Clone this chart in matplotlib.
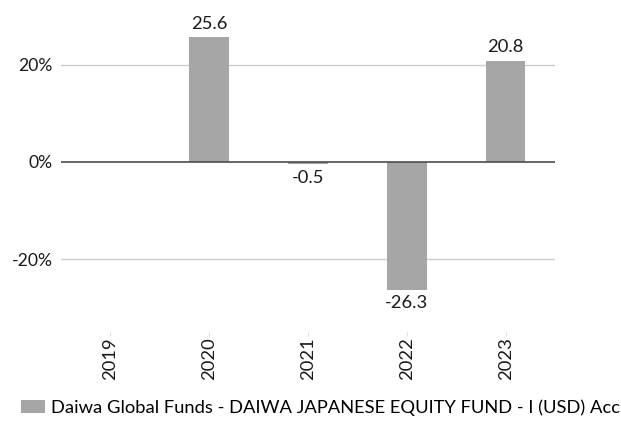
import numpy as np
import matplotlib
matplotlib.use("Agg")
import matplotlib.pyplot as plt
from matplotlib.patches import Patch

# data
years = ["2019", "2020", "2021", "2022", "2023"]
returns = [np.nan, 25.6, -0.5, -26.3, 20.8]
series_name = "Daiwa Global Funds - DAIWA JAPANESE EQUITY FUND - I (USD) Acc"
yticks = [-20, 0, 20]

plt.rcParams['font.family'] = ['Lato', 'DejaVu Sans']
fs = 13.2

W, H = 621, 425
fig = plt.figure(figsize=(W / 100, H / 100), dpi=100)
# axes placed in pixel terms: left 61, right 555, top 16, bottom 332
ax = fig.add_axes([61 / W, 1 - 332 / H, (555 - 61) / W, (332 - 16) / H])

bar_color = "#a6a6a6"
x = np.arange(len(years))
ax.bar(x, returns, width=0.4, color=bar_color, zorder=3)

# value labels
for xi, v in zip(x, returns):
    if np.isnan(v):
        continue
    if v >= 0:
        ax.annotate(f"{v:.1f}", (xi, v), xytext=(0, 4), textcoords="offset points",
                    ha="center", va="bottom", fontsize=fs, color="#1a1a1a")
    else:
        ax.annotate(f"{v:.1f}", (xi, v), xytext=(0, -4), textcoords="offset points",
                    ha="center", va="top", fontsize=fs, color="#1a1a1a")

ax.set_xlim(-0.5, len(years) - 0.5)
ax.set_ylim(-35, 30)

# gridlines
for t in yticks:
    if t == 0:
        ax.axhline(0, color="#4d4d4d", lw=1.2, zorder=4)
    else:
        ax.axhline(t, color="#cccccc", lw=1, zorder=1)

ax.set_yticks(yticks)
ax.set_yticklabels([f"{t}%" for t in yticks], fontsize=fs - 0.6, color="#1a1a1a")
ax.set_xticks(x)
ax.set_xticklabels(years, rotation=90, fontsize=fs, color="#1a1a1a")
ax.tick_params(axis="y", length=0, pad=6)
ax.tick_params(axis="x", length=3, color="#e0e0e0", pad=1)

for s in ax.spines.values():
    s.set_visible(False)

# legend at the bottom
handle = Patch(facecolor=bar_color, edgecolor="none")
fig.legend([handle], [series_name], loc="lower left", bbox_to_anchor=(10 / W, -2 / H),
           frameon=False, fontsize=fs, handlelength=1.3, handleheight=0.7,
           handletextpad=0.35, borderaxespad=0.2)

fig.savefig("out.png", dpi=100)
